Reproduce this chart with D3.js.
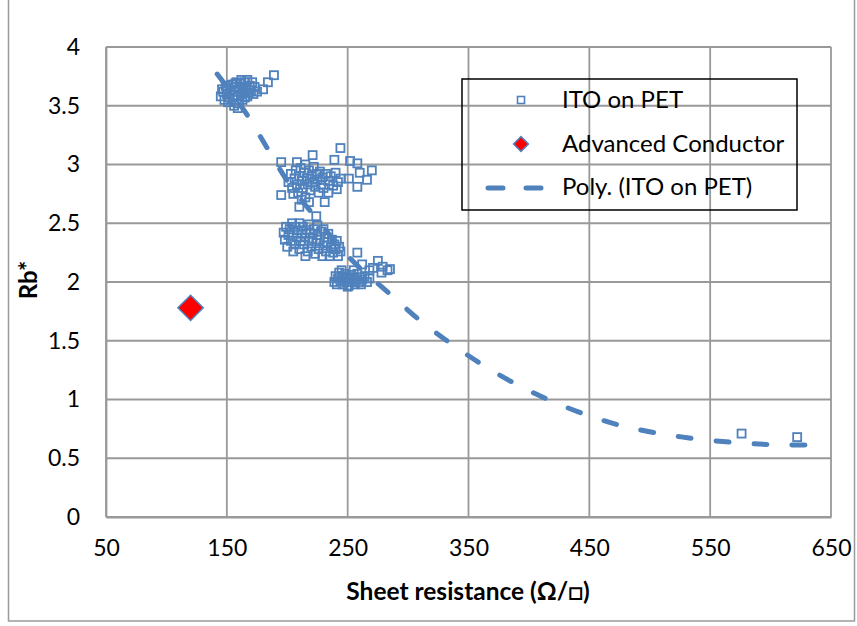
<!DOCTYPE html>
<html>
<head>
<meta charset="utf-8">
<script src="https://cdn.jsdelivr.net/npm/d3@7"></script>
<style>
  html, body { margin: 0; padding: 0; background: #fff; }
  svg { display: block; }
  text { font-family: Lato, "Open Sans", sans-serif; fill: #000; }
</style>
</head>
<body>
<svg id="chart" width="857" height="626"></svg>
<script>
// ---- data ----
const xTicks = [50, 150, 250, 350, 450, 550, 650];
const yTicks = [0, 0.5, 1, 1.5, 2, 2.5, 3, 3.5, 4];
const yTickLabels = ["0", "0.5", "1", "1.5", "2", "2.5", "3", "3.5", "4"];

const itoX = [
  145,147,148,150,150,152,153,154,155,156,157,158,158,159,160,160,161,162,162,163,164,165,165,166,167,168,169,170,171,172,173,149,146,151,156,159,157,163,167,175,180,184,189,
  195,221,244,239,252,258,270,260,266,258,251,244,241,195,210,231,234,224,
  201,203,204,206,207,208,209,210,211,212,213,214,215,216,217,218,219,220,221,222,223,224,225,226,227,228,229,230,232,234,236,238,240,242,205,212,218,215,208,
  197,198,199,200,201,202,203,204,205,206,207,208,209,210,210,211,212,213,214,215,216,217,218,218,219,220,221,222,223,224,225,226,227,228,229,230,231,232,233,234,235,236,237,238,239,240,241,242,243,244,215,225,230,205,
  239,240,241,242,243,244,245,246,247,248,249,250,251,252,253,254,255,256,257,258,259,260,261,262,264,266,268,245,255,250,258,262,271,275,278,279,283,285,268,
  576,622
];
const itoY = [
  3.58,3.62,3.55,3.60,3.65,3.57,3.63,3.68,3.59,3.55,3.62,3.66,3.70,3.58,3.64,3.52,3.69,3.60,3.72,3.66,3.62,3.70,3.57,3.65,3.72,3.61,3.67,3.63,3.70,3.60,3.66,3.67,3.64,3.53,3.50,3.48,3.69,3.55,3.58,3.62,3.64,3.70,3.76,
  3.02,3.08,3.14,3.04,3.03,3.01,2.95,2.93,2.87,2.81,2.88,2.88,2.79,2.74,2.64,2.68,2.76,2.56,
  2.85,2.92,2.80,2.88,2.95,2.83,2.76,2.90,2.97,2.86,2.80,2.93,2.72,2.88,2.83,2.95,2.78,2.90,2.85,2.98,2.81,2.92,2.87,2.76,2.94,2.83,2.89,2.80,2.92,2.86,2.90,2.82,2.93,2.85,2.75,2.70,2.68,3.00,3.02,
  2.42,2.36,2.47,2.30,2.40,2.45,2.35,2.50,2.42,2.32,2.47,2.38,2.44,2.28,2.50,2.35,2.41,2.47,2.32,2.38,2.44,2.26,2.35,2.49,2.41,2.30,2.37,2.45,2.24,2.33,2.40,2.28,2.36,2.43,2.22,2.31,2.38,2.26,2.34,2.41,2.22,2.30,2.36,2.25,2.32,2.28,2.35,2.22,2.30,2.26,2.22,2.48,2.45,2.26,
  2.00,2.05,1.98,2.03,2.08,2.01,2.05,1.98,2.03,2.07,2.00,2.04,1.97,2.02,2.06,2.00,2.04,1.98,2.02,2.07,2.00,2.04,1.98,2.02,2.05,2.00,2.03,2.10,2.10,1.96,2.25,2.15,2.12,2.18,2.08,2.13,2.10,2.11,2.10,
  0.71,0.68
];

const advX = [120];
const advY = [1.78];

// polynomial trendline
const trendX = [142, 165, 184, 202, 225, 244, 260, 278, 312, 338, 364, 392, 420, 450, 480, 526, 574, 607, 638];
const trendY = [3.77, 3.45, 3.13, 2.83, 2.53, 2.29, 2.12, 1.96, 1.655, 1.458, 1.279, 1.117, 0.981, 0.861, 0.768, 0.682, 0.631, 0.614, 0.612];

const seriesNames = ["ITO on PET", "Advanced Conductor", "Poly. (ITO on PET)"];

// ---- drawing ----
const blue = "#4F81BD";
const gridColor = "#999999";
const svg = d3.select("#chart");

// outer chart border
svg.append("rect").attr("x", 8.5).attr("y", -2).attr("width", 846).attr("height", 623)
  .attr("fill", "none").attr("stroke", "#9a9a9a").attr("stroke-width", 1.5);

const x = d3.scaleLinear().domain([50, 650]).range([106, 831]);
const y = d3.scaleLinear().domain([0, 4]).range([517, 47]);

// grid
svg.append("g").selectAll("line.v").data(xTicks).join("line")
  .attr("x1", d => x(d)).attr("x2", d => x(d)).attr("y1", y(0)).attr("y2", y(4))
  .attr("stroke", gridColor).attr("stroke-width", 1.8);
svg.append("g").selectAll("line.h").data(yTicks).join("line")
  .attr("x1", x(50)).attr("x2", x(650)).attr("y1", d => y(d)).attr("y2", d => y(d))
  .attr("stroke", gridColor).attr("stroke-width", 1.8);

// axes with d3 axis generators
const xAxis = svg.append("g").attr("transform", `translate(0,${y(0)})`)
  .call(d3.axisBottom(x).tickValues(xTicks).tickSize(0).tickPadding(23).tickFormat(d3.format("d")));
xAxis.select(".domain").attr("stroke", gridColor).attr("stroke-width", 1.8);
xAxis.selectAll("text").attr("font-size", 23).attr("font-family", "Lato");

const yAxis = svg.append("g").attr("transform", `translate(${x(50)},0)`)
  .call(d3.axisLeft(y).tickValues(yTicks).tickSize(0).tickPadding(26).tickFormat((d, i) => yTickLabels[i]));
yAxis.select(".domain").attr("stroke", gridColor).attr("stroke-width", 1.8);
yAxis.selectAll("text").attr("font-size", 23).attr("font-family", "Lato");

// trendline
const line = d3.line().x(d => x(d[0])).y(d => y(d[1])).curve(d3.curveCatmullRom.alpha(0.5));
svg.append("path").datum(trendX.map((v, i) => [v, trendY[i]]))
  .attr("d", line).attr("fill", "none").attr("stroke", blue).attr("stroke-width", 5)
  .attr("stroke-dasharray", "13,25").attr("stroke-linecap", "round");

// ITO points
svg.append("g").selectAll("rect").data(itoX.map((v, i) => [v, itoY[i]])).join("rect")
  .attr("x", d => x(d[0]) - 4).attr("y", d => y(d[1]) - 4)
  .attr("width", 8).attr("height", 8)
  .attr("fill", "none").attr("stroke", blue).attr("stroke-width", 1.8);

// Advanced conductor
svg.append("g").selectAll("path").data(advX.map((v, i) => [v, advY[i]])).join("path")
  .attr("transform", d => `translate(${x(d[0])},${y(d[1])}) rotate(45)`)
  .attr("d", d3.symbol().type(d3.symbolSquare).size(320)())
  .attr("fill", "#FF0000").attr("stroke", blue).attr("stroke-width", 1.5);

// axis titles
svg.append("text").attr("x", 468).attr("y", 600).attr("text-anchor", "middle")
  .attr("font-weight", "bold").attr("font-size", 24.5).text("Sheet resistance (Ω/□)");
svg.append("text").attr("transform", "translate(37,280) rotate(-90)").attr("text-anchor", "middle")
  .attr("font-weight", "bold").attr("font-size", 24).text("Rb*");

// legend
const lg = svg.append("g");
lg.append("rect").attr("x", 462).attr("y", 79).attr("width", 335).attr("height", 131)
  .attr("fill", "none").attr("stroke", "#000").attr("stroke-width", 1.5);
lg.append("rect").attr("x", 517.5).attr("y", 96.5).attr("width", 7).attr("height", 7)
  .attr("fill", "none").attr("stroke", blue).attr("stroke-width", 1.6);
lg.append("path").attr("transform", "translate(521,144) rotate(45)")
  .attr("d", d3.symbol().type(d3.symbolSquare).size(110)())
  .attr("fill", "#FF0000").attr("stroke", blue).attr("stroke-width", 1.5);
lg.append("line").attr("x1", 488).attr("x2", 545).attr("y1", 188).attr("y2", 188)
  .attr("stroke", blue).attr("stroke-width", 5).attr("stroke-dasharray", "15,23").attr("stroke-linecap", "round");
const lgY = [108, 152, 195];
lg.selectAll("text").data(seriesNames).join("text")
  .attr("x", 562).attr("y", (d, i) => lgY[i]).attr("font-size", 24).text(d => d);
</script>
</body>
</html>
